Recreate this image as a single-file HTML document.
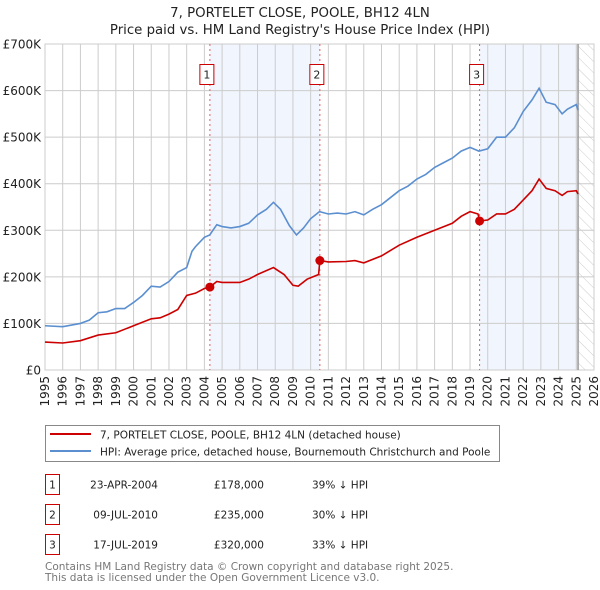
<!DOCTYPE html>
<html><head><meta charset="utf-8"><style>
body{margin:0;background:#fff;font-family:"DejaVu Sans","Liberation Sans",sans-serif;}
svg{display:block}
</style></head><body>
<svg id="c" width="600" height="590" xmlns="http://www.w3.org/2000/svg" font-family="DejaVu Sans, Liberation Sans, sans-serif">
<text x="300" y="17" text-anchor="middle" font-size="13.3" fill="#222">7, PORTELET CLOSE, POOLE, BH12 4LN</text>
<text x="300" y="34" text-anchor="middle" font-size="13.3" fill="#222">Price paid vs. HM Land Registry's House Price Index (HPI)</text>
<g id="plot"></g>
<g>
<rect x="45.5" y="425.5" width="454" height="36" fill="#fff" stroke="#888"/>
<line x1="50" y1="434" x2="91" y2="434" stroke="#cc0000" stroke-width="2"/>
<text x="100" y="438.5" font-size="10.5" fill="#222">7, PORTELET CLOSE, POOLE, BH12 4LN (detached house)</text>
<line x1="50" y1="451" x2="91" y2="451" stroke="#5b8fd0" stroke-width="2"/>
<text x="100" y="455.5" font-size="10.5" fill="#222">HPI: Average price, detached house, Bournemouth Christchurch and Poole</text>
</g>
<g id="table" font-size="10.5" fill="#222"></g>
<text x="45" y="570" font-size="10.5" fill="#777">Contains HM Land Registry data © Crown copyright and database right 2025.</text>
<text x="45" y="581" font-size="10.5" fill="#777">This data is licensed under the Open Government Licence v3.0.</text>
</svg>
<script>
const hpiYears=[1995,1996,1997,1997.5,1998,1998.5,1999,1999.5,2000,2000.5,2001,2001.5,2002,2002.5,2003,2003.3,2003.5,2004,2004.3,2004.7,2005,2005.5,2006,2006.5,2007,2007.5,2007.9,2008.3,2008.8,2009.2,2009.6,2010,2010.5,2011,2011.5,2012,2012.5,2013,2013.5,2014,2014.5,2015,2015.5,2016,2016.5,2017,2017.5,2018,2018.5,2019,2019.5,2020,2020.5,2021,2021.5,2022,2022.5,2022.9,2023.3,2023.8,2024.2,2024.5,2025,2025.1];
const hpiValues=[95,93,100,107,123,125,132,132,145,160,180,178,190,210,220,255,265,285,290,312,308,305,308,315,333,345,360,345,310,290,305,325,340,335,337,335,340,333,345,355,370,385,395,410,420,435,445,455,470,478,470,475,500,500,520,555,580,605,575,570,550,560,570,558];
const propYears=[1995,1996,1997,1998,1999,2000,2001,2001.5,2002,2002.5,2003,2003.5,2004,2004.31,2004.7,2005,2006,2006.5,2007,2007.9,2008.5,2009,2009.3,2009.8,2010.45,2010.52,2011,2012,2012.5,2013,2014,2015,2016,2017,2018,2018.5,2019,2019.45,2019.54,2020,2020.5,2021,2021.5,2022,2022.5,2022.9,2023.3,2023.8,2024.2,2024.5,2025,2025.1];
const propValues=[60,58,63,75,80,95,110,112,120,130,160,165,175,178,190,188,188,195,205,220,205,182,180,195,205,235,232,233,235,230,245,268,285,300,315,330,340,335,320,322,335,335,345,365,385,410,390,385,375,383,385,378];
const saleYears=[2004.31,2010.52,2019.54];
const saleValues=[178,235,320];
const saleLabels=["1","2","3"];
const saleDates=["23-APR-2004","09-JUL-2010","17-JUL-2019"];
const salePrices=["£178,000","£235,000","£320,000"];
const saleDiffs=["39% ↓ HPI","30% ↓ HPI","33% ↓ HPI"];
const yTicks=[0,100,200,300,400,500,600,700];
const yTickLabels=["£0","£100K","£200K","£300K","£400K","£500K","£600K","£700K"];
const xTicks=[1995,1996,1997,1998,1999,2000,2001,2002,2003,2004,2005,2006,2007,2008,2009,2010,2011,2012,2013,2014,2015,2016,2017,2018,2019,2020,2021,2022,2023,2024,2025,2026];
const dataEnd=2025.1;

const L=45,R=594,T=44,B=370;
const x=v=>L+(v-1995)*(R-L)/31;
const y=v=>B-v*(B-T)/700;
const NS="http://www.w3.org/2000/svg";
const plot=document.getElementById('plot');
function mk(tag,attrs,parent){const e=document.createElementNS(NS,tag);for(const k in attrs)e.setAttribute(k,attrs[k]);(parent||plot).appendChild(e);return e;}

const defs=mk('defs',{});
const pat=mk('pattern',{id:'hatch',width:'8',height:'8',patternUnits:'userSpaceOnUse',patternTransform:'rotate(-45)'},defs);
mk('line',{x1:'0',y1:'0',x2:'0',y2:'8',stroke:'#ccc','stroke-width':'1'},pat);

for(let i=0;i<saleYears.length;i+=2){
  const x1=x(saleYears[i]);
  const x2=i+1<saleYears.length?x(saleYears[i+1]):x(dataEnd);
  const r=mk('rect',{x:x1,y:T,width:x2-x1,height:B-T,fill:'#eef3fc',opacity:'0.8'});
  
  
}
const h=mk('rect',{x:x(dataEnd),y:T,width:R-x(dataEnd),height:B-T,fill:'url(#hatch)'});



xTicks.forEach((t,i)=>{
  const g=mk('line',{x1:x(t),x2:x(t),y1:T,y2:B,stroke:'#ccc','stroke-width':'1'});
  
  
  const tx=mk('text',{transform:`translate(${x(t)+4},376) rotate(-90)`,'text-anchor':'end','font-size':'12',fill:'#222'});
  tx.textContent=t;
  
  
});
yTicks.forEach((t,i)=>{
  const g=mk('line',{x1:L,x2:R,y1:y(t),y2:y(t),stroke:'#ccc','stroke-width':'1'});
  
  
  const tx=mk('text',{x:L-4,y:y(t)+4.5,'text-anchor':'end','font-size':'12',fill:'#222'});
  tx.textContent=yTickLabels[i];
  
  
});
const fr=mk('rect',{x:L,y:T,width:R-L,height:B-T,fill:'none',stroke:'#ccc'});


const el=mk('line',{x1:x(dataEnd),x2:x(dataEnd),y1:T,y2:B,stroke:'#999','stroke-width':'1.5'});



saleYears.forEach((s,i)=>{
  const v=mk('line',{x1:x(s),x2:x(s),y1:T,y2:B,stroke:'#e06060','stroke-dasharray':'2,3','stroke-width':'1'});
  
  
  const bx=mk('rect',{x:x(s)-10,y:64.5,width:14,height:20,fill:'#fff',stroke:'#cc0000'});
  
  
  const t=mk('text',{x:x(s)-3,y:78.5,'text-anchor':'middle','font-size':'11',fill:'#222'});
  t.textContent=saleLabels[i];
  
  
});

const hp=mk('polyline',{points:hpiYears.map((a,i)=>x(a)+','+y(hpiValues[i])).join(' '),fill:'none',stroke:'#5b8fd0','stroke-width':'1.6'});


const pp=mk('polyline',{points:propYears.map((a,i)=>x(a)+','+y(propValues[i])).join(' '),fill:'none',stroke:'#cc0000','stroke-width':'1.6'});


saleYears.forEach((s,i)=>{
  const c=mk('circle',{cx:x(s),cy:y(saleValues[i]),r:'4.5',fill:'#cc0000'});
  
  
});

const tb=document.getElementById('table');
saleLabels.forEach((lab,i)=>{
  const yy=482+i*30;
  const b=mk('rect',{x:45.5,y:yy-7.5,width:14,height:20,fill:'#fff',stroke:'#cc0000'},tb);
  
  
  const cols=[[52.5,lab,'middle'],[158,saleDates[i],'end'],[264,salePrices[i],'end'],[312,saleDiffs[i],'start']];
  cols.forEach(c=>{
    const t=mk('text',{x:c[0],y:yy+6.5,'text-anchor':c[2]},tb);
    t.textContent=c[1];
    
    
  });
});
</script>
</body></html>
